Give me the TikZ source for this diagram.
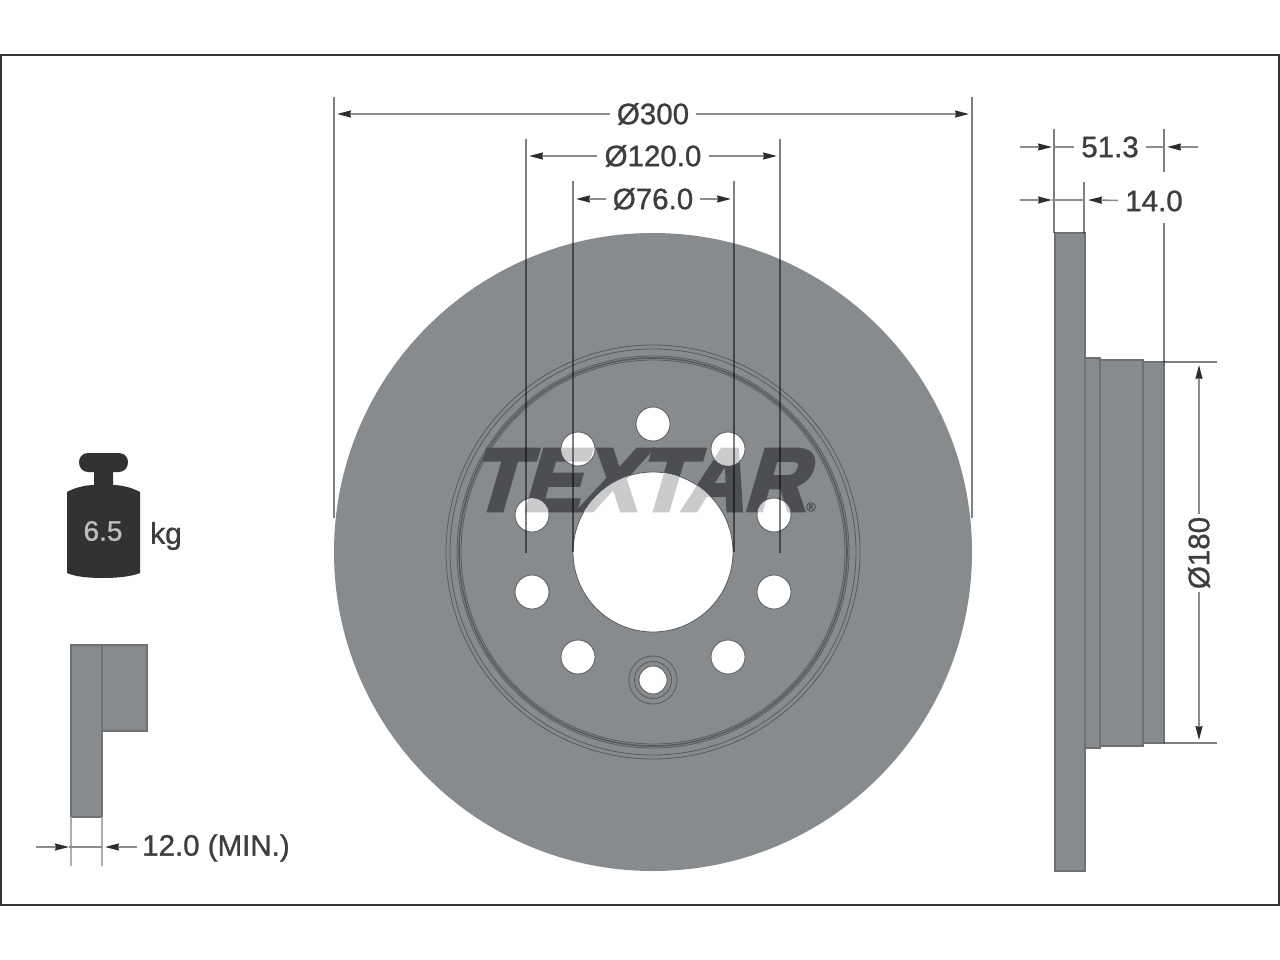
\documentclass[tikz,border=0pt]{standalone}
\usepackage{fontspec}
\setmainfont[FakeBold=1]{Liberation Sans}
\newfontfamily\logofont[FakeSlant=0.3,FakeBold=5]{Liberation Sans Bold}
\usetikzlibrary{arrows.meta}
\definecolor{discgrey}{RGB}{136,139,142}
\definecolor{ringgrey}{RGB}{88,90,93}
\definecolor{edgegrey}{RGB}{110,112,115}
\definecolor{inkgrey}{RGB}{62,62,64}
\definecolor{extgrey}{RGB}{140,140,140}
\definecolor{tipgrey}{RGB}{45,45,47}
\definecolor{logodark}{RGB}{76,78,81}
\definecolor{logolight}{RGB}{202,203,204}
\definecolor{framegrey}{RGB}{50,50,50}
\definecolor{weightdark}{RGB}{50,50,52}
\definecolor{weightlight}{RGB}{190,190,190}
\tikzset{
  ext/.style={draw=black,draw opacity=.5,line width=1.3pt},
  padext/.style={draw=extgrey!70,line width=1.5pt},
  dimline/.style={draw=extgrey,line width=1.6pt,-{Stealth[length=14pt,width=7pt,inset=1pt,color=tipgrey]}},
  plainline/.style={draw=extgrey,line width=1.6pt},
  lab/.style={font=\fontsize{29.5}{30}\selectfont,text=inkgrey,inner sep=7pt},
  part/.style={fill=discgrey,draw=edgegrey,line width=1.2pt},
  hole/.style={fill=white,draw=ringgrey,line width=.8pt},
  ring/.style={draw=ringgrey,line width=.8pt},
  logotext/.style={font=\logofont\fontsize{88}{88}\selectfont,inner sep=0pt,xscale=.97},
}
\newcommand{\holelist}{653/424,578/449,728/449,532/515,774/515,532/592,774/592,578/657,728/657}
\begin{document}
\begin{tikzpicture}[x=1pt,y=-1pt]
\useasboundingbox (0,0) rectangle (1280,960);
\fill[white] (0,0) rectangle (1280,960);
\draw[framegrey,line width=2pt] (1,55) rectangle (1279,905);

% disc
\coordinate (c) at (653,552);
\fill[discgrey] (c) circle[radius=319];
\foreach \r in {207,203,196,192}{\draw[ring] (c) circle[radius=\r];}
\draw[ring,line width=1.6pt] (c) circle[radius=194];
\node[logotext,text=logodark] (logo) at (637,480) {TEXTAR};
\node[font=\fontsize{13}{13}\selectfont,text=logodark,inner sep=0pt] (reg) at (811,507) {®};
\draw[ring] (653,680) circle[radius=24];
\draw[ring] (653,680) circle[radius=18.5];
\foreach \x/\y in \holelist {\draw[hole] (\x,\y) circle[radius=17];}
\draw[hole] (653,680) circle[radius=14];
\draw[hole] (c) circle[radius=80];
\begin{scope}
  \clip (c) circle[radius=79.5] (578,449) circle[radius=16.5] (728,449) circle[radius=16.5]
        (532,515) circle[radius=16.5] (774,515) circle[radius=16.5];
  \node[logotext,text=logolight] (logob) at (637,480) {TEXTAR};
\end{scope}

% extension lines, disc
\draw[ext] (334,97) -- (334,518);
\draw[ext] (972,97) -- (972,518);
\draw[ext] (526,139) -- (526,553);
\draw[ext] (780,139) -- (780,553);
\draw[ext] (573,181) -- (573,552);
\draw[ext] (734,181) -- (734,552);

% diameters
\node[lab] (d300) at (653,114) {Ø300};
\node[lab] (d120) at (653,156) {Ø120.0};
\node[lab] (d76) at (653,199) {Ø76.0};
\coordinate (t300l) at (337,114);
\coordinate (t300r) at (969,114);
\coordinate (t120l) at (529,156);
\coordinate (t120r) at (777,156);
\coordinate (t76l) at (576,199);
\coordinate (t76r) at (731,199);
\draw[dimline] (d300) -- (t300l);
\draw[dimline] (d300) -- (t300r);
\draw[dimline] (d120) -- (t120l);
\draw[dimline] (d120) -- (t120r);
\draw[dimline] (d76) -- (t76l);
\draw[dimline] (d76) -- (t76r);

% side view
\draw[part] (1055,233) rectangle (1085,871);
\draw[part] (1085,358) rectangle (1100,748);
\draw[part] (1100,360) rectangle (1143,746);
\draw[part] (1143,362) rectangle (1164,743);
\draw[ext] (1054,129) -- (1054,233);
\draw[ext] (1084,182) -- (1084,233);
\draw[ext] (1164,129) -- (1164,172);
\draw[ext] (1164,223) -- (1164,362);
\draw[ext] (1164,362) -- (1217,362);
\draw[ext] (1164,743) -- (1217,743);

\node[lab] (w51) at (1110,147) {51.3};
\node[lab] (w14) at (1154,201) {14.0};
\coordinate (a51l) at (1020,147);
\coordinate (t51l) at (1052,147);
\coordinate (e51l) at (1054,147);
\coordinate (a51r) at (1198,147);
\coordinate (t51r) at (1167,147);
\coordinate (e51r) at (1164,147);
\draw[dimline] (a51l) -- (t51l);
\draw[plainline] (e51l) -- (w51);
\draw[dimline] (a51r) -- (t51r);
\draw[plainline] (e51r) -- (w51);
\coordinate (a14l) at (1020,200);
\coordinate (t14l) at (1052,200);
\coordinate (e14) at (1084,200);
\coordinate (t14r) at (1088,200);
\draw[dimline] (a14l) -- (t14l);
\draw[plainline] (t14l) -- (e14);
\draw[dimline] (w14) -- (t14r);

\node[lab,rotate=90,inner sep=3pt] (d180) at (1199,553) {Ø180};
\coordinate (t180t) at (1199,365);
\coordinate (t180b) at (1199,740);
\draw[dimline] (d180) -- (t180t);
\draw[dimline] (d180) -- (t180b);

% weight
\path[fill=weightdark]
  (88,453) -- (119,453) .. controls (125,453) and (128,458) .. (128,462)
  .. controls (128,467) and (125,472) .. (119,472) -- (113,472) -- (113,485)
  .. controls (122,485) and (133,488) .. (140,492) -- (140,573)
  .. controls (130,577) and (115,578) .. (103,578)
  .. controls (90,578) and (76,577) .. (67,573) -- (67,492)
  .. controls (74,488) and (85,485) .. (94,485) -- (94,472) -- (88,472)
  .. controls (82,472) and (79,467) .. (79,462)
  .. controls (79,458) and (82,453) .. (88,453) -- cycle;
\node[font=\fontsize{28}{28}\selectfont,text=weightlight,inner sep=0pt] (wval) at (103,531) {6.5};
\node[font=\fontsize{30}{30}\selectfont,text=inkgrey,inner sep=0pt] (wunit) at (166,536) {kg};

% pad section
\draw[part] (71,645) rectangle (102,817);
\draw[part] (102,645) rectangle (147,731);
\draw[padext] (71,817) -- (71,866);
\draw[padext] (102,817) -- (102,866);
\node[lab,anchor=west,inner sep=0pt] (pad) at (142,848) {12.0 (MIN.)};
\coordinate (p0) at (36,847);
\coordinate (pt) at (69,847);
\coordinate (pe) at (102,847);
\coordinate (pr) at (137,847);
\coordinate (pu) at (105,847);
\draw[dimline] (p0) -- (pt);
\draw[plainline] (pt) -- (pe);
\draw[dimline] (pr) -- (pu);
\end{tikzpicture}
\end{document}
